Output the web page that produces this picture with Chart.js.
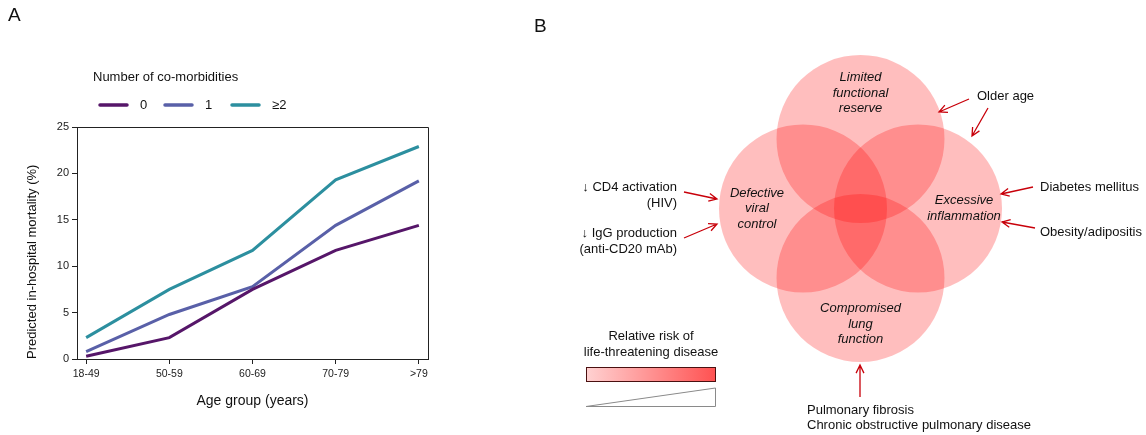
<!DOCTYPE html>
<html>
<head>
<meta charset="utf-8">
<script src="https://cdn.jsdelivr.net/npm/chart.js@4.4.1/dist/chart.umd.min.js"></script>
<style>
  body { margin: 0; background: #fff; }
  #wrap { position: relative; width: 1146px; height: 435px; }
  #chartA { position: absolute; left: 0; top: 0; }
  #chartB { position: absolute; left: 530px; top: 0; }
</style>
</head>
<body>
<div id="wrap">
  <canvas id="chartA" width="450" height="435"></canvas>
  <canvas id="chartB" width="616" height="435"></canvas>
</div>
<script>
const FONT = "'Liberation Sans', Arial, sans-serif";

// Panel A - predicted in-hospital mortality by age group
const ageGroups = ['18-49', '50-59', '60-69', '70-79', '>79'];
const comorbLabels = ['0', '1', '≥2'];
const mortality0 = [0.3, 2.3, 7.5, 11.7, 14.4];
const mortality1 = [0.8, 4.8, 7.8, 14.4, 19.2];
const mortality2 = [2.3, 7.5, 11.7, 19.3, 22.9];
const yTicks = [0, 5, 10, 15, 20, 25];
const lineColors = ['#561669', '#5960a8', '#2c8f9f'];

// Panel B - overlapping mechanisms (diagram units, origin at the middle)
const mechanisms = [
  ['Limited', 'functional', 'reserve'],
  ['Defective', 'viral', 'control'],
  ['Excessive', 'inflammation'],
  ['Compromised', 'lung', 'function']
];
const mechX = [0, -57.5, 57.5, 0];
const mechY = [69.5, 0, 0, -69.5];

// ---------- panel A ----------
const legendA = {
  id: 'legendA',
  afterDraw(chart) {
    const ctx = chart.ctx;
    const a = chart.chartArea;
    ctx.save();
    // frame top + right
    ctx.strokeStyle = '#222';
    ctx.lineWidth = 1;
    ctx.beginPath();
    ctx.moveTo(Math.round(a.left) + 0.5, Math.round(a.top) + 0.5);
    ctx.lineTo(Math.round(a.right) + 0.5, Math.round(a.top) + 0.5);
    ctx.lineTo(Math.round(a.right) + 0.5, Math.round(a.bottom) + 0.5);
    ctx.stroke();

    ctx.fillStyle = '#111';
    ctx.textBaseline = 'middle';
    ctx.textAlign = 'left';
    ctx.font = '19px ' + FONT;
    ctx.fillText('A', 8, 16);
    ctx.font = '13px ' + FONT;
    ctx.fillText('Number of co-morbidities', 93, 77);
    const itemX = [100, 165, 232];
    chart.data.datasets.forEach((ds, i) => {
      ctx.strokeStyle = ds.borderColor;
      ctx.lineWidth = 3.5;
      ctx.lineCap = 'round';
      ctx.beginPath();
      ctx.moveTo(itemX[i], 105);
      ctx.lineTo(itemX[i] + 27, 105);
      ctx.stroke();
      ctx.fillText(ds.label, itemX[i] + 40, 105);
    });
    ctx.restore();
  }
};

new Chart(document.getElementById('chartA'), {
  type: 'line',
  data: {
    datasets: [mortality0, mortality1, mortality2].map((vals, i) => ({
      label: comorbLabels[i],
      data: vals.map((v, j) => ({ x: j, y: v })),
      borderColor: lineColors[i],
      borderWidth: 3,
      pointRadius: 0,
      tension: 0,
      fill: false
    }))
  },
  options: {
    responsive: false,
    animation: false,
    devicePixelRatio: 1,
    events: [],
    layout: { autoPadding: false, padding: { left: 21, top: 127, right: 22, bottom: 22 } },
    plugins: { legend: { display: false }, tooltip: { enabled: false } },
    scales: {
      x: {
        type: 'linear',
        min: -0.11,
        max: 4.11,
        afterBuildTicks: s => { s.ticks = ageGroups.map((_, i) => ({ value: i })); },
        afterFit: s => { s.height = 54; },
        grid: { drawOnChartArea: false, drawTicks: true, tickLength: 5, color: '#222' },
        border: { color: '#222', width: 1 },
        ticks: {
          callback: v => ageGroups[v],
          font: { family: FONT, size: 10.5 },
          color: '#222',
          padding: 4,
          maxRotation: 0,
          autoSkip: false
        },
        title: {
          display: true,
          text: 'Age group (years)',
          font: { family: FONT, size: 14 },
          color: '#111',
          padding: { top: 4, bottom: 3 }
        }
      },
      y: {
        min: 0,
        max: 25,
        afterBuildTicks: s => { s.ticks = yTicks.map(v => ({ value: v })); },
        afterFit: s => { s.width = 56; },
        grid: { drawOnChartArea: false, drawTicks: true, tickLength: 5, color: '#222' },
        border: { color: '#222', width: 1 },
        ticks: { font: { family: FONT, size: 11 }, color: '#222', padding: 3 },
        title: {
          display: true,
          text: 'Predicted in-hospital mortality (%)',
          align: 'start',
          font: { family: FONT, size: 13 },
          color: '#111',
          padding: { top: 4, bottom: 4 }
        }
      }
    }
  },
  plugins: [legendA]
});

// ---------- panel B ----------
const OX = 530; // canvas offset on the page
const RED = '#c8000a';

function arrow(ctx, x1, y1, x2, y2) {
  x1 -= OX; x2 -= OX;
  const ang = Math.atan2(y2 - y1, x2 - x1);
  const h = 9, spread = 0.45;
  ctx.beginPath();
  ctx.moveTo(x1, y1);
  ctx.lineTo(x2, y2);
  ctx.moveTo(x2 - h * Math.cos(ang - spread), y2 - h * Math.sin(ang - spread));
  ctx.lineTo(x2, y2);
  ctx.lineTo(x2 - h * Math.cos(ang + spread), y2 - h * Math.sin(ang + spread));
  ctx.stroke();
}

function text(ctx, str, x, y, align) {
  ctx.textAlign = align || 'left';
  ctx.fillText(str, x - OX, y);
}

const diagramB = {
  id: 'diagramB',
  afterDatasetsDraw(chart) {
    const ctx = chart.ctx;
    const xs = chart.scales.x, ys = chart.scales.y;
    const cx0 = xs.getPixelForValue(0), cy0 = ys.getPixelForValue(0);
    ctx.save();
    ctx.fillStyle = '#111';
    ctx.textBaseline = 'middle';

    // labels inside circles, pushed outward from the middle
    ctx.font = 'italic 13px ' + FONT;
    ctx.textAlign = 'center';
    chart.getDatasetMeta(0).data.forEach((el, i) => {
      const dx = el.x - cx0, dy = el.y - cy0;
      const len = Math.hypot(dx, dy) || 1;
      const lx = el.x + dx / len * 46;
      const ly = el.y + dy / len * 46;
      const lines = mechanisms[i];
      lines.forEach((t, k) => {
        ctx.fillText(t, lx, ly + (k - (lines.length - 1) / 2) * 15.5);
      });
    });

    // letter B
    ctx.font = '19px ' + FONT;
    text(ctx, 'B', 534, 27);

    // risk factor annotations
    ctx.font = '13px ' + FONT;
    text(ctx, 'Older age', 977, 96);
    text(ctx, 'Diabetes mellitus', 1040, 187);
    text(ctx, 'Obesity/adipositis', 1040, 232);
    text(ctx, '↓ CD4 activation', 677, 187, 'right');
    text(ctx, '(HIV)', 677, 203, 'right');
    text(ctx, '↓ IgG production', 677, 233, 'right');
    text(ctx, '(anti-CD20 mAb)', 677, 249, 'right');
    text(ctx, 'Pulmonary fibrosis', 807, 410);
    text(ctx, 'Chronic obstructive pulmonary disease', 807, 425);

    ctx.strokeStyle = RED;
    ctx.lineWidth = 1.3;
    arrow(ctx, 969, 99, 939, 112);
    arrow(ctx, 988, 108, 972, 136);
    arrow(ctx, 1033, 187, 1001, 194);
    arrow(ctx, 1035, 228, 1002, 222);
    arrow(ctx, 684, 192, 717, 199);
    arrow(ctx, 684, 238, 717, 224);
    arrow(ctx, 860, 397, 860, 365);

    // relative risk key
    text(ctx, 'Relative risk of', 651, 336, 'center');
    text(ctx, 'life-threatening disease', 651, 352, 'center');
    const gx = 586 - OX, gy = 367, gw = 129, gh = 14;
    const grad = ctx.createLinearGradient(gx, 0, gx + gw, 0);
    grad.addColorStop(0, '#ffd2d2');
    grad.addColorStop(1, '#ff5252');
    ctx.fillStyle = grad;
    ctx.fillRect(gx, gy, gw, gh);
    ctx.strokeStyle = '#4a1010';
    ctx.lineWidth = 1;
    ctx.strokeRect(gx + 0.5, gy + 0.5, gw, gh);
    ctx.strokeStyle = '#8a8a8a';
    ctx.beginPath();
    ctx.moveTo(gx, 406.5);
    ctx.lineTo(gx + gw + 0.5, 388);
    ctx.lineTo(gx + gw + 0.5, 406.5);
    ctx.closePath();
    ctx.stroke();
    ctx.restore();
  }
};

new Chart(document.getElementById('chartB'), {
  type: 'bubble',
  data: {
    datasets: [{
      data: mechX.map((x, i) => ({ x: x, y: mechY[i], r: 84 })),
      backgroundColor: 'rgba(255, 0, 0, 0.255)',
      borderWidth: 0,
      hoverRadius: 0,
      clip: false
    }]
  },
  options: {
    responsive: false,
    animation: false,
    devicePixelRatio: 1,
    events: [],
    layout: { autoPadding: false, padding: 0 },
    plugins: { legend: { display: false }, tooltip: { enabled: false } },
    scales: {
      x: { display: false, min: -330.5, max: 285.5 },
      y: { display: false, min: -226.5, max: 208.5 }
    }
  },
  plugins: [diagramB]
});
</script>
</body>
</html>
